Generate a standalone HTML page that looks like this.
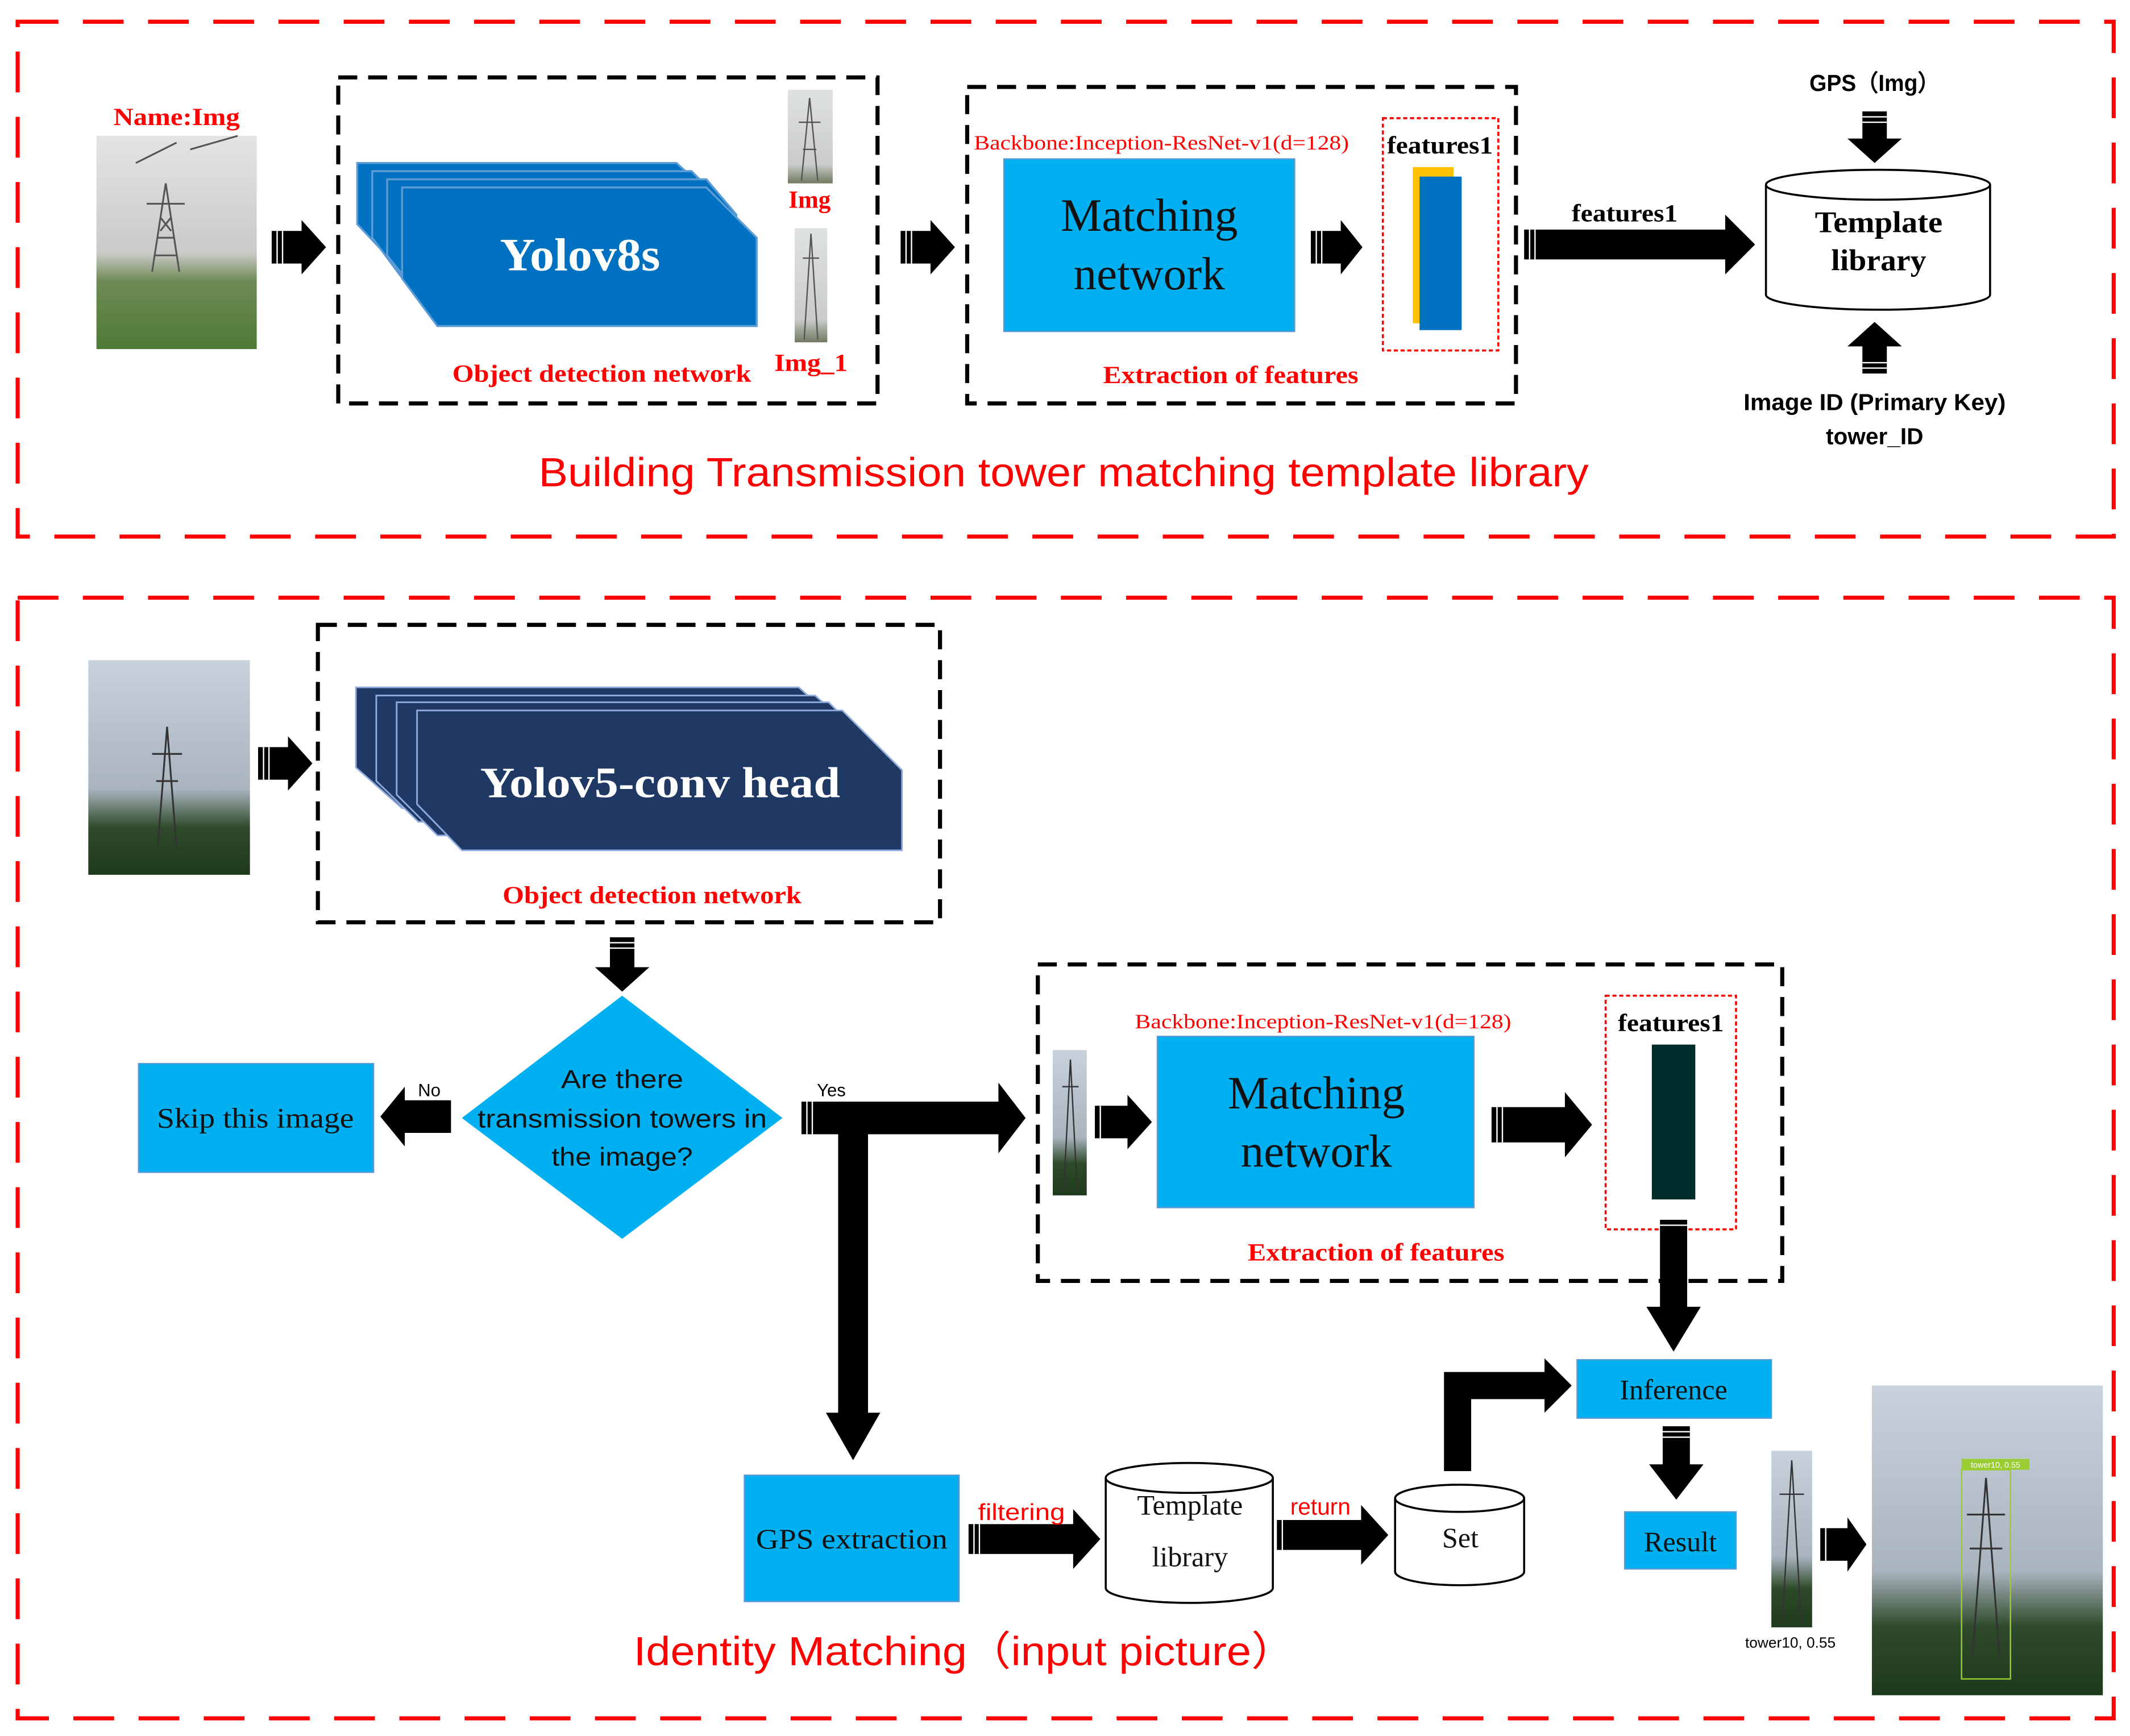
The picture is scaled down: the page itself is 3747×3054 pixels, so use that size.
<!DOCTYPE html>
<html><head><meta charset="utf-8"><style>
html,body{margin:0;padding:0;background:#fff;}
svg{display:block;}
.sf{font-family:"Liberation Serif",serif;}
.ss{font-family:"Liberation Sans",sans-serif;}
</style></head><body>
<svg width="3747" height="3054" viewBox="0 0 1568 1278" preserveAspectRatio="none" xmlns="http://www.w3.org/2000/svg">
<defs>
<linearGradient id="p1" x1="0" y1="0" x2="0" y2="1"><stop offset="0" stop-color="#e4e4e4"/><stop offset="0.55" stop-color="#c9cbc8"/><stop offset="0.68" stop-color="#6f8a55"/><stop offset="1" stop-color="#4d7a35"/></linearGradient>
<linearGradient id="p2" x1="0" y1="0" x2="0" y2="1"><stop offset="0" stop-color="#c8d2dc"/><stop offset="0.6" stop-color="#a9b4bf"/><stop offset="0.78" stop-color="#2f4a2a"/><stop offset="1" stop-color="#1e3a1c"/></linearGradient>
<linearGradient id="p3" x1="0" y1="0" x2="0" y2="1"><stop offset="0" stop-color="#dfe2e2"/><stop offset="0.8" stop-color="#c9ccca"/><stop offset="1" stop-color="#6f7a60"/></linearGradient>
</defs>
<rect x="13" y="16" width="1543" height="379" fill="none" stroke="#ff0000" stroke-width="3" stroke-dasharray="30 18"/>
<rect x="13" y="440" width="1543" height="825" fill="none" stroke="#ff0000" stroke-width="3" stroke-dasharray="30 18"/>

<text x="130" y="92" class="sf" font-size="18" font-weight="bold" fill="#ff0000" text-anchor="middle" textLength="93" lengthAdjust="spacingAndGlyphs">Name:Img</text>
<rect x="71" y="100" width="118" height="157" fill="url(#p1)"/>
<g stroke="#555" stroke-width="1.3" fill="none"><path d="M112,200 L122,135 L132,200 M116,175 L128,175 M114,188 L130,188 M108,150 L136,150 M118,160 L126,170 M126,160 L118,170"/><path d="M140,110 L175,100 M100,120 L130,105"/></g>
<path d="M200,170 222,170 222,162 240,182 222,202 222,194 200,194Z" fill="#000"/>
<rect x="249" y="57" width="397" height="240" fill="none" stroke="#000" stroke-width="3" stroke-dasharray="14 8"/>
<g stroke="#5b9bd5" stroke-width="1.5">
<polygon points="263,120 498,120 520,140 520,200 296,200 263,165" fill="#0070c0"/>
<polygon points="274,126 509,126 531,148 531,210 300,210 274,175" fill="#0070c0"/>
<polygon points="285,132 520,132 542,158 542,222 312,222 285,188" fill="#0070c0"/>
<polygon points="296,138 520,138 557,175 557,240 322,240 296,205" fill="#0070c0"/>
</g>
<text x="427" y="199" class="sf" font-size="34" font-weight="bold" fill="#fff" text-anchor="middle" textLength="118" lengthAdjust="spacingAndGlyphs">Yolov8s</text>
<rect x="580" y="66" width="33" height="69" fill="url(#p3)"/>
<path d="M590,133 L596,72 L602,133 M588,90 L604,90 M591,110 L601,110" stroke="#555" fill="none"/>
<text x="596" y="153" class="sf" font-size="18" font-weight="bold" fill="#ff0000" text-anchor="middle">Img</text>
<rect x="585" y="168" width="24" height="84" fill="url(#p3)"/>
<path d="M592,250 L597,172 L602,250 M591,190 L603,190" stroke="#555" fill="none"/>
<text x="597" y="273" class="sf" font-size="18" font-weight="bold" fill="#ff0000" text-anchor="middle" textLength="54" lengthAdjust="spacingAndGlyphs">Img_1</text>
<text x="443" y="281" class="sf" font-size="18" font-weight="bold" fill="#ff0000" text-anchor="middle" textLength="220" lengthAdjust="spacingAndGlyphs">Object detection network</text>
<path d="M663,170 685,170 685,162 703,182 685,202 685,194 663,194Z" fill="#000"/>
<rect x="712" y="64" width="404" height="233" fill="none" stroke="#000" stroke-width="3" stroke-dasharray="14 8"/>
<text x="855" y="110" class="sf" font-size="15" fill="#ff0000" text-anchor="middle" textLength="276" lengthAdjust="spacingAndGlyphs">Backbone:Inception-ResNet-v1(d=128)</text>
<rect x="739" y="117" width="214" height="127" fill="#00b0f0" stroke="#5b9bd5"/>
<text x="846" y="170" class="sf" font-size="34" fill="#111" text-anchor="middle">Matching</text>
<text x="846" y="213" class="sf" font-size="34" fill="#111" text-anchor="middle">network</text>
<path d="M965,170 987,170 987,162 1003,182 987,202 987,194 965,194Z" fill="#000"/>
<rect x="1018" y="87" width="85" height="171" fill="none" stroke="#ff0000" stroke-width="1.5" stroke-dasharray="3 2"/>
<text x="1060" y="113" class="sf" font-size="18" font-weight="bold" fill="#000" text-anchor="middle" textLength="78" lengthAdjust="spacingAndGlyphs">features1</text>
<rect x="1040" y="123" width="30" height="115" fill="#ffc000"/>
<rect x="1045" y="130" width="31" height="113" fill="#0070c0"/>
<path d="M1122,169 1270,169 1270,158 1292,180 1270,202 1270,191 1122,191Z" fill="#000"/>
<text x="1196" y="163" class="sf" font-size="18" font-weight="bold" fill="#000" text-anchor="middle" textLength="78" lengthAdjust="spacingAndGlyphs">features1</text>
<path d="M1300,136 A82.5,11 0 0 1 1465,136 V217 A82.5,11 0 0 1 1300,217 Z" fill="#fff" stroke="#000" stroke-width="1.5"/>
<path d="M1300,136 A82.5,11 0 0 0 1465,136" fill="none" stroke="#000" stroke-width="1.5"/>
<text x="1383" y="171" class="sf" font-size="22" font-weight="bold" fill="#000" text-anchor="middle" textLength="94" lengthAdjust="spacingAndGlyphs">Template</text>
<text x="1383" y="199" class="sf" font-size="22" font-weight="bold" fill="#000" text-anchor="middle" textLength="70" lengthAdjust="spacingAndGlyphs">library</text>
<text x="1380" y="67" class="ss" font-size="17" font-weight="bold" fill="#000" text-anchor="middle" textLength="96" lengthAdjust="spacingAndGlyphs">GPS（Img）</text>
<path d="M1371,82 1389,82 1389,102 1400,102 1380,120 1360,102 1371,102Z" fill="#000"/>
<path d="M1371,275 1389,275 1389,255 1400,255 1380,237 1360,255 1371,255Z" fill="#000"/>
<text x="1380" y="302" class="ss" font-size="17" font-weight="bold" fill="#000" text-anchor="middle" textLength="193" lengthAdjust="spacingAndGlyphs">Image ID (Primary Key)</text>
<text x="1380" y="327" class="ss" font-size="17" font-weight="bold" fill="#000" text-anchor="middle">tower_ID</text>
<text x="783" y="358" class="ss" font-size="30" fill="#ff0000" text-anchor="middle" textLength="773" lengthAdjust="spacingAndGlyphs">Building Transmission tower matching template library</text>

<rect x="65" y="486" width="119" height="158" fill="url(#p2)"/>
<path d="M116,625 L123,535 L130,625 M112,555 L134,555 M115,575 L131,575" stroke="#333" stroke-width="1.3" fill="none"/>
<path d="M190,550 212,550 212,542 230,562 212,582 212,574 190,574Z" fill="#000"/>
<rect x="234" y="460" width="458" height="219" fill="none" stroke="#000" stroke-width="3" stroke-dasharray="14 8"/>
<g stroke="#8faadc" stroke-width="1.2">
<polygon points="262,506 588,506 620,535 620,595 296,595 262,565" fill="#1f3864"/>
<polygon points="277,512 600,512 635,543 635,605 308,605 277,575" fill="#1f3864"/>
<polygon points="292,517 610,517 648,555 648,615 322,615 292,585" fill="#1f3864"/>
<polygon points="307,523 620,523 664,567 664,626 340,626 307,592" fill="#1f3864"/>
</g>
<text x="486" y="587" class="sf" font-size="32" font-weight="bold" fill="#fff" text-anchor="middle" textLength="265" lengthAdjust="spacingAndGlyphs">Yolov5-conv head</text>
<text x="480" y="665" class="sf" font-size="18" font-weight="bold" fill="#ff0000" text-anchor="middle" textLength="220" lengthAdjust="spacingAndGlyphs">Object detection network</text>
<path d="M449,690 467,690 467,712 478,712 458,730 438,712 449,712Z" fill="#000"/>
<polygon points="458,733 576,823 458,912 340,823" fill="#00b0f0"/>
<text x="458" y="801" class="ss" font-size="19" fill="#111" text-anchor="middle" textLength="90" lengthAdjust="spacingAndGlyphs">Are there</text>
<text x="458" y="830" class="ss" font-size="19" fill="#111" text-anchor="middle" textLength="213" lengthAdjust="spacingAndGlyphs">transmission towers in</text>
<text x="458" y="858" class="ss" font-size="19" fill="#111" text-anchor="middle" textLength="104" lengthAdjust="spacingAndGlyphs">the image?</text>
<rect x="102" y="783" width="173" height="80" fill="#00b0f0" stroke="#5b9bd5"/>
<text x="188" y="830" class="sf" font-size="21" fill="#111" text-anchor="middle" textLength="145" lengthAdjust="spacingAndGlyphs">Skip this image</text>
<path d="M332,810 298,810 298,800 280,822 298,844 298,834 332,834Z" fill="#000"/>
<text x="316" y="807" class="ss" font-size="13" fill="#000" text-anchor="middle">No</text>
<text x="612" y="807" class="ss" font-size="13" fill="#000" text-anchor="middle">Yes</text>
<path d="M590,811 735,811 735,797 755,823 735,849 735,835 590,835Z" fill="#000"/>
<path d="M617,815 639,815 639,1040 648,1040 628,1075 608,1040 617,1040Z" fill="#000"/>
<rect x="764" y="710" width="548" height="233" fill="none" stroke="#000" stroke-width="3" stroke-dasharray="14 8"/>
<rect x="775" y="773" width="25" height="107" fill="url(#p2)"/>
<path d="M783,878 L788,780 L793,878 M782,800 L794,800" stroke="#333" fill="none"/>
<path d="M806,814 830,814 830,806 848,826 830,846 830,838 806,838Z" fill="#000"/>
<text x="974" y="757" class="sf" font-size="15" fill="#ff0000" text-anchor="middle" textLength="277" lengthAdjust="spacingAndGlyphs">Backbone:Inception-ResNet-v1(d=128)</text>
<rect x="852" y="763" width="233" height="126" fill="#00b0f0" stroke="#5b9bd5"/>
<text x="969" y="816" class="sf" font-size="34" fill="#111" text-anchor="middle">Matching</text>
<text x="969" y="859" class="sf" font-size="34" fill="#111" text-anchor="middle">network</text>
<path d="M1098,815 1152,815 1152,804 1172,828 1152,852 1152,841 1098,841Z" fill="#000"/>
<rect x="1182" y="733" width="96" height="172" fill="none" stroke="#ff0000" stroke-width="1.5" stroke-dasharray="3 2"/>
<text x="1230" y="759" class="sf" font-size="18" font-weight="bold" fill="#000" text-anchor="middle" textLength="78" lengthAdjust="spacingAndGlyphs">features1</text>
<rect x="1216" y="769" width="32" height="114" fill="#002b2b"/>
<text x="1013" y="928" class="sf" font-size="18" font-weight="bold" fill="#ff0000" text-anchor="middle" textLength="189" lengthAdjust="spacingAndGlyphs">Extraction of features</text>
<text x="906" y="282" class="sf" font-size="18" font-weight="bold" fill="#ff0000" text-anchor="middle" textLength="188" lengthAdjust="spacingAndGlyphs">Extraction of features</text>
<path d="M1222,898 1242,898 1242,962 1252,962 1232,995 1212,962 1222,962Z" fill="#000"/>
<rect x="1161" y="1001" width="143" height="43" fill="#00b0f0" stroke="#5b9bd5"/>
<text x="1232" y="1030" class="sf" font-size="21" fill="#111" text-anchor="middle">Inference</text>
<path d="M1063,1083 1083,1083 1083,1030 1137,1030 1137,1040 1157,1020 1137,1000 1137,1010 1063,1010Z" fill="#000"/>
<path d="M1224,1050 1244,1050 1244,1078 1254,1078 1234,1104 1214,1078 1224,1078Z" fill="#000"/>
<rect x="1196" y="1113" width="82" height="42" fill="#00b0f0" stroke="#5b9bd5"/>
<text x="1237" y="1142" class="sf" font-size="21" fill="#111" text-anchor="middle">Result</text>
<rect x="1304" y="1068" width="30" height="130" fill="url(#p2)"/>
<path d="M1312,1195 L1319,1075 L1326,1195 M1310,1100 L1328,1100" stroke="#333" fill="none"/>
<text x="1318" y="1213" class="ss" font-size="11" fill="#000" text-anchor="middle">tower10, 0.55</text>
<path d="M1340,1125 1360,1125 1360,1117 1374,1137 1360,1157 1360,1149 1340,1149Z" fill="#000"/>
<rect x="1378" y="1020" width="170" height="228" fill="url(#p2)"/>
<path d="M1452,1220 L1462,1088 L1472,1220 M1448,1115 L1476,1115 M1450,1140 L1474,1140" stroke="#333" stroke-width="1.3" fill="none"/>
<rect x="1444" y="1082" width="36" height="154" fill="none" stroke="#9acd32" stroke-width="1"/>
<rect x="1444" y="1074" width="50" height="8" fill="#9acd32"/>
<text x="1469" y="1080.5" class="ss" font-size="6" fill="#fff" text-anchor="middle">tower10, 0.55</text>
<rect x="548" y="1086" width="158" height="93" fill="#00b0f0" stroke="#5b9bd5"/>
<text x="627" y="1140" class="sf" font-size="21" fill="#111" text-anchor="middle" textLength="141" lengthAdjust="spacingAndGlyphs">GPS extraction</text>
<path d="M713,1122 790,1122 790,1111 810,1133 790,1155 790,1144 713,1144Z" fill="#000"/>
<text x="752" y="1119" class="ss" font-size="17" fill="#ff0000" text-anchor="middle" textLength="64" lengthAdjust="spacingAndGlyphs">filtering</text>
<path d="M814,1088 A61.5,11 0 0 1 937,1088 V1169 A61.5,11 0 0 1 814,1169 Z" fill="#fff" stroke="#000" stroke-width="1.5"/>
<path d="M814,1088 A61.5,11 0 0 0 937,1088" fill="none" stroke="#000" stroke-width="1.5"/>
<text x="876" y="1115" class="sf" font-size="21" fill="#111" text-anchor="middle">Template</text>
<text x="876" y="1153" class="sf" font-size="21" fill="#111" text-anchor="middle">library</text>
<path d="M940,1119 1002,1119 1002,1108 1022,1130 1002,1152 1002,1141 940,1141Z" fill="#000"/>
<text x="972" y="1115" class="ss" font-size="17" fill="#ff0000" text-anchor="middle">return</text>
<path d="M1027,1103 A47.5,10 0 0 1 1122,1103 V1157 A47.5,10 0 0 1 1027,1157 Z" fill="#fff" stroke="#000" stroke-width="1.5"/>
<path d="M1027,1103 A47.5,10 0 0 0 1122,1103" fill="none" stroke="#000" stroke-width="1.5"/>
<text x="1075" y="1139" class="sf" font-size="21" fill="#111" text-anchor="middle">Set</text>
<text x="710" y="1226" class="ss" font-size="30" fill="#ff0000" text-anchor="middle" textLength="487" lengthAdjust="spacingAndGlyphs">Identity Matching（input picture）</text>
<g stroke="#fff" stroke-width="1">
<path d="M204,170V194M208,170V194M667,170V194M671,170V194M969,170V194M973,170V194M1126,169V191M1130,169V191"/>
<path d="M194,550V574M198,550V574M594,811V835M598,811V835M810,814V838M1102,815V841M1106,815V841M717,1122V1144M721,1122V1144M944,1119V1141M1344,1125V1149"/>
<path d="M1371,86H1389M1371,90H1389M1371,271H1389M1371,267H1389M449,694H467M449,698H467M1222,902H1242M1224,1054H1244M1224,1058H1244"/>
</g>
</svg>
</body></html>
